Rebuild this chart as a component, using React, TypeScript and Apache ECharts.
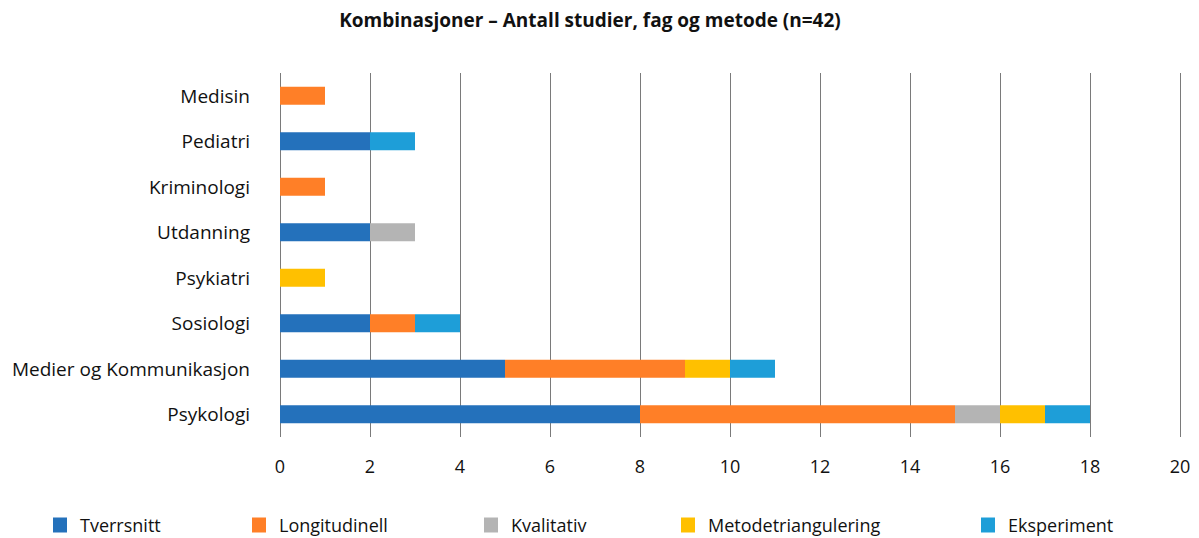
import React, { useEffect, useRef } from "react";
import * as echarts from "echarts";

const categories = [
  "Medisin",
  "Pediatri",
  "Kriminologi",
  "Utdanning",
  "Psykiatri",
  "Sosiologi",
  "Medier og Kommunikasjon",
  "Psykologi",
];
const seriesNames = ["Tverrsnitt", "Longitudinell", "Kvalitativ", "Metodetriangulering", "Eksperiment"];
const tverrsnitt = [0, 2, 0, 2, 0, 2, 5, 8];
const longitudinell = [1, 0, 1, 0, 0, 1, 4, 7];
const kvalitativ = [0, 0, 0, 1, 0, 0, 0, 1];
const metodetriangulering = [0, 0, 0, 0, 1, 0, 1, 1];
const eksperiment = [0, 1, 0, 0, 0, 1, 1, 1];
const colors = ["#2471BB", "#FF7F27", "#B4B4B4", "#FFC000", "#1E9ED8"];
const legendLefts = [53, 252, 484, 681, 981];

export default function App() {
  const ref = useRef<HTMLDivElement>(null);
  useEffect(() => {
    if (!ref.current) return;
    const chart = echarts.init(ref.current, undefined, { renderer: "svg" });
    const values = [tverrsnitt, longitudinell, kvalitativ, metodetriangulering, eksperiment];
    const font = "'Open Sans', sans-serif";
    chart.setOption({
      animation: false,
      textStyle: { fontFamily: font },
      title: {
        text: "Kombinasjoner – Antall studier, fag og metode (n=42)",
        left: 585,
        textAlign: "center",
        top: 5,
        textStyle: { fontSize: 19, fontWeight: "bold", color: "#111", fontFamily: font },
      },
      legend: seriesNames.map((n, i) => ({
        data: [n],
        left: legendLefts[i],
        top: 516,
        padding: 0,
        itemWidth: 14,
        itemHeight: 15,
        itemGap: 0,
        icon: "rect",
        textStyle: { fontSize: 18, color: "#111", fontFamily: font, padding: [0, 0, 0, 8] },
      })),
      grid: { left: 280, right: 19, top: 73, bottom: 101, containLabel: false },
      xAxis: {
        type: "value",
        min: 0,
        max: 20,
        interval: 2,
        axisLine: { show: false },
        axisTick: { show: false },
        axisLabel: { fontSize: 18, color: "#111", margin: 20, fontFamily: font },
        splitLine: { show: true, lineStyle: { color: "#7a7a7a", width: 1 } },
      },
      yAxis: {
        type: "category",
        data: categories,
        inverse: true,
        axisLine: { show: false },
        axisTick: { show: false },
        axisLabel: { fontSize: 19, color: "#111", margin: 30, fontFamily: font },
      },
      series: seriesNames.map((n, i) => ({
        name: n,
        type: "bar",
        stack: "total",
        barWidth: 18,
        itemStyle: { color: colors[i] },
        data: values[i].map((v) => (v === 0 ? null : v)),
      })),
    });
    return () => chart.dispose();
  }, []);
  return <div ref={ref} style={{ width: 1199, height: 538, position: "absolute", left: 0, top: 0 }} />;
}
